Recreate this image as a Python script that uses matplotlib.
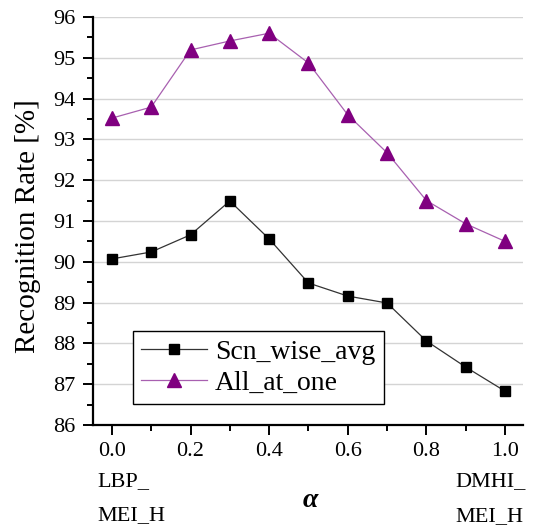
import matplotlib
matplotlib.use("Agg")
import matplotlib.pyplot as plt
from matplotlib.ticker import MultipleLocator

plt.rcParams['font.family'] = ['Liberation Serif', 'DejaVu Serif']

alpha = [0.0, 0.1, 0.2, 0.3, 0.4, 0.5, 0.6, 0.7, 0.8, 0.9, 1.0]
scn_wise_avg = [90.07, 90.24, 90.66, 91.49, 90.56, 89.48, 89.16, 88.99, 88.06, 87.42, 86.83]
all_at_one = [93.52, 93.79, 95.19, 95.41, 95.60, 94.87, 93.60, 92.67, 91.50, 90.93, 90.50]
xtick_labels = ["0.0", "0.2", "0.4", "0.6", "0.8", "1.0"]

fig = plt.figure(figsize=(5.36, 5.28), dpi=100)
ax = fig.add_axes([0.1735, 0.195, 0.8025, 0.773])

ax.plot(alpha, scn_wise_avg, color="#333333", lw=0.9, marker="s", ms=7.8,
        mfc="black", mec="black", label="Scn_wise_avg")
ax.plot(alpha, all_at_one, color="#a860b0", lw=0.9, marker="^", ms=10,
        mfc="#800080", mec="#800080", label="All_at_one")

ax.set_xlim(-0.048, 1.046)
ax.set_ylim(86, 96)
ax.xaxis.set_minor_locator(MultipleLocator(0.1))
ax.yaxis.set_major_locator(MultipleLocator(1))
ax.yaxis.set_minor_locator(MultipleLocator(0.5))
ax.set_xticks([0.0, 0.2, 0.4, 0.6, 0.8, 1.0])
ax.set_xticklabels(xtick_labels)
ax.tick_params(axis="both", which="major", labelsize=16, length=7.5, width=1.4, direction="out")
ax.tick_params(axis="both", which="minor", length=4, width=1.4, direction="out")
ax.tick_params(axis="x", pad=5)
ax.tick_params(axis="y", pad=5)

ax.grid(axis="y", color="#d4d4d4", lw=1.0)
ax.set_axisbelow(True)
for s in ["top", "right"]:
    ax.spines[s].set_visible(False)
for s in ["left", "bottom"]:
    ax.spines[s].set_linewidth(1.6)

ax.set_ylabel("Recognition Rate [%]", fontsize=21)
ax.yaxis.set_label_coords(-0.121, 0.487)

# extra lines under the end ticks
tr = ax.get_xaxis_transform()
ax.text(-0.038, -0.150, "LBP_", transform=tr, ha="left", va="baseline", fontsize=16)
ax.text(-0.038, -0.232, "MEI_H", transform=tr, ha="left", va="baseline", fontsize=16)
ax.text(0.873, -0.150, "DMHI_", transform=tr, ha="left", va="baseline", fontsize=16)
ax.text(0.873, -0.235, "MEI_H", transform=tr, ha="left", va="baseline", fontsize=16)
ax.text(0.504, -0.184, "α", transform=tr, ha="center", va="center",
        fontsize=20, style="italic", weight="bold")

leg = ax.legend(loc="lower left", bbox_to_anchor=(0.093, 0.051), borderaxespad=0,
                fontsize=20, fancybox=False, edgecolor="black", framealpha=1,
                handlelength=2.35, handletextpad=0.3, borderpad=0.3, labelspacing=0.2)
leg.get_frame().set_linewidth(1.0)

fig.savefig("out.png", dpi=100)
